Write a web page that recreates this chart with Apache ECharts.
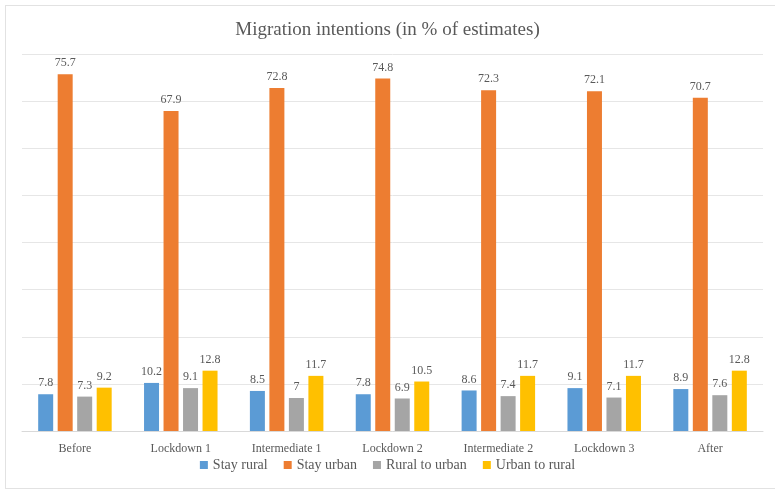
<!DOCTYPE html>
<html><head><meta charset="utf-8">
<script src="https://cdn.jsdelivr.net/npm/echarts@6/dist/echarts.min.js"></script>
<style>html,body{margin:0;padding:0;background:#fff}#c{width:775px;height:491px}
#frame{position:absolute;left:5px;top:5px;width:780px;height:484px;border:1px solid #e2e2e2;box-sizing:border-box;pointer-events:none}</style>
</head><body><div id="c"></div><div id="frame"></div>
<script>
const categories = ['Before','Lockdown 1','Intermediate 1','Lockdown 2','Intermediate 2','Lockdown 3','After'];
const stayRural = [7.8,10.2,8.5,7.8,8.6,9.1,8.9];
const stayUrban = [75.7,67.9,72.8,74.8,72.3,72.1,70.7];
const ruralToUrban = [7.3,9.1,7,6.9,7.4,7.1,7.6];
const urbanToRural = [9.2,12.8,11.7,10.5,11.7,11.7,12.8];
const seriesNames = ['Stay rural','Stay urban','Rural to urban','Urban to rural'];
const colors = ['#5B9BD5','#ED7D31','#A5A5A5','#FFC000'];
const font = '"Liberation Serif", "Times New Roman", serif';
const chart = echarts.init(document.getElementById('c'));
const mk = (name, data, i) => ({
  name, type:'bar', data, barWidth:15, barGap:'30%',
  itemStyle:{color:colors[i]},
  label:{show:true, position:'top', distance:5, color:'#595959', fontFamily:font, fontSize:12}
});
chart.setOption({
  animation:false,
  title:{text:'Migration intentions (in % of estimates)', left:'center', top:16,
    textStyle:{fontFamily:font, fontSize:19, fontWeight:'normal', color:'#595959'}},
  legend:{bottom:14, left:'center', itemWidth:8, itemHeight:8, itemGap:16, icon:'rect',
    textStyle:{fontFamily:font, fontSize:14, color:'#595959'}, data:seriesNames},
  grid:{left:22, right:12, top:54, bottom:60},
  xAxis:{type:'category', data:categories,
    axisLine:{lineStyle:{color:'#d9d9d9'}}, axisTick:{show:false},
    axisLabel:{fontFamily:font, fontSize:12, color:'#595959', margin:12}},
  yAxis:{type:'value', min:0, max:80, interval:10,
    axisLabel:{show:false}, axisLine:{show:false}, axisTick:{show:false},
    splitLine:{lineStyle:{color:'#e6e6e6'}}},
  series:[mk(seriesNames[0],stayRural,0), mk(seriesNames[1],stayUrban,1), mk(seriesNames[2],ruralToUrban,2), mk(seriesNames[3],urbanToRural,3)]
});
</script></body></html>
